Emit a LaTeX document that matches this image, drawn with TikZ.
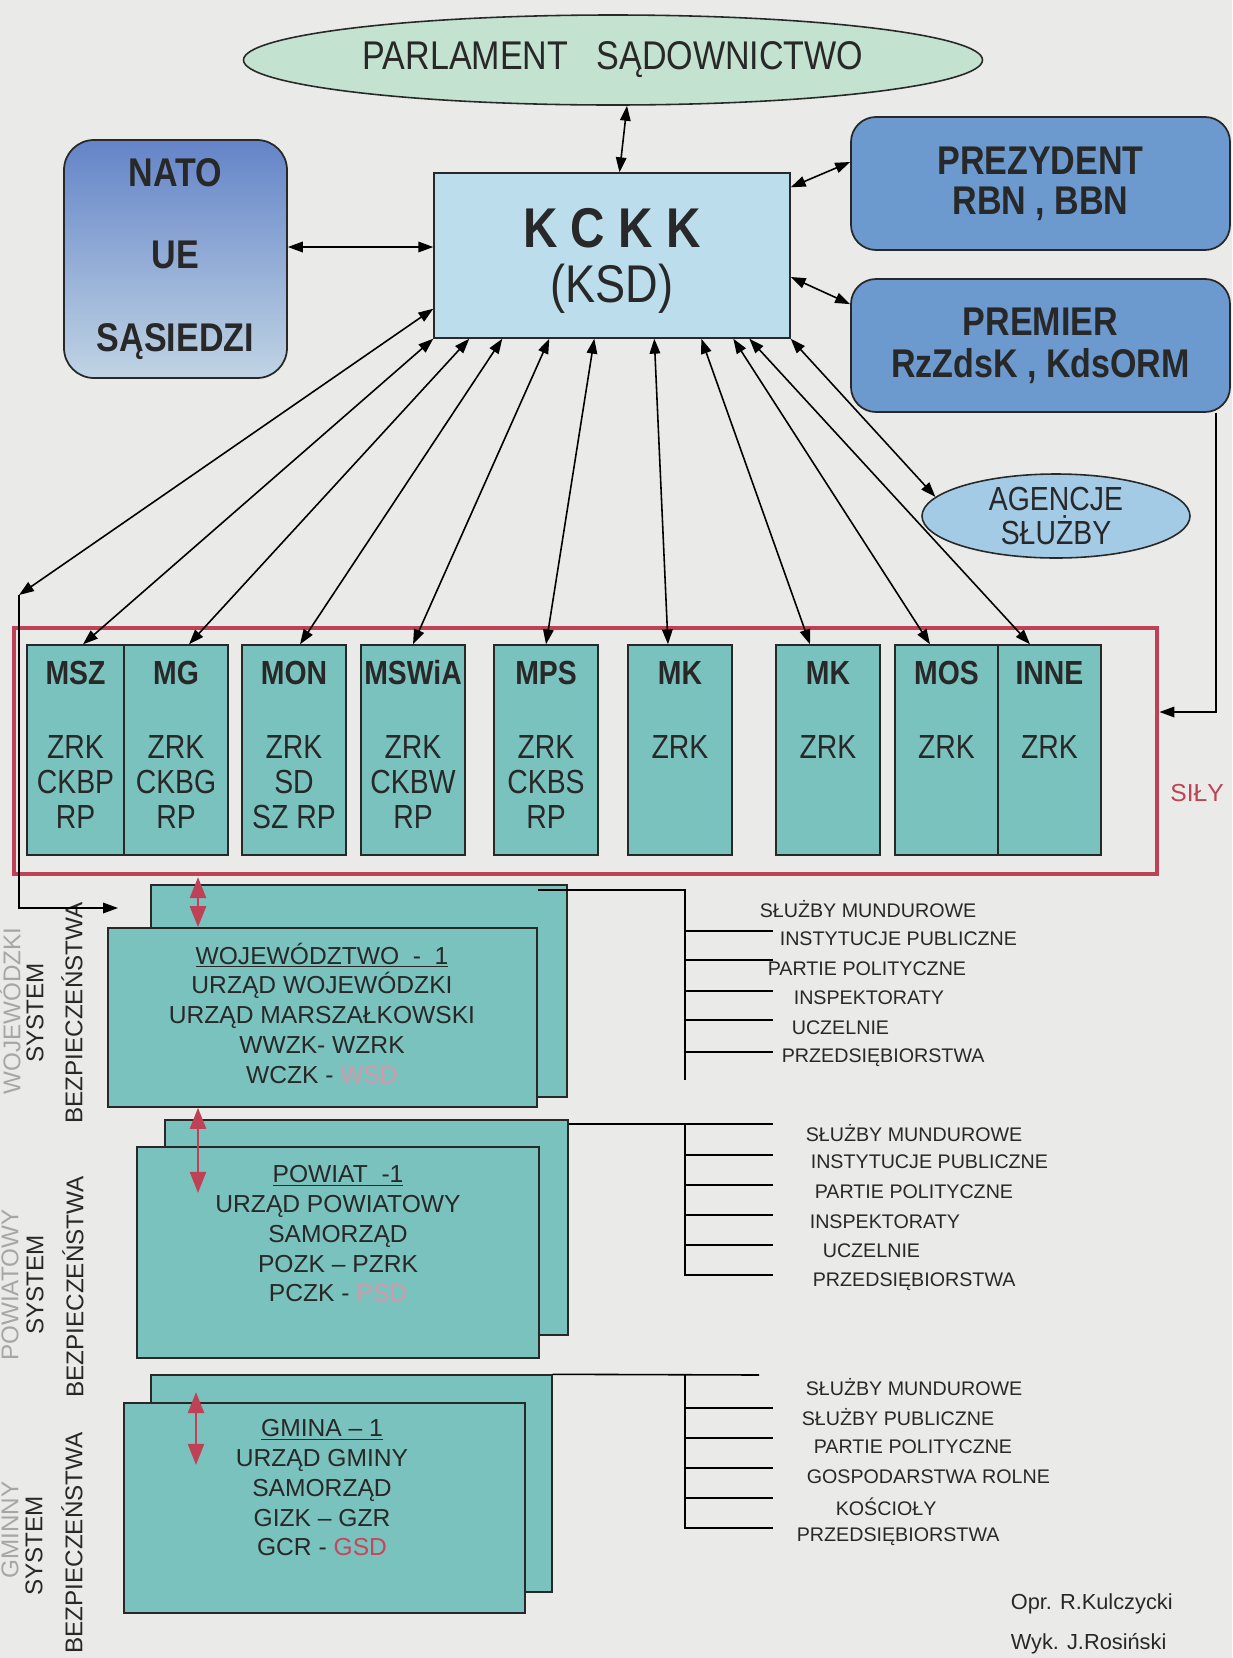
\documentclass[tikz,border=0pt]{standalone}
\usepackage{fontspec}
\setmainfont{Liberation Sans}
\newfontfamily\narrowsf{Liberation Sans}[FakeStretch=0.85]
\usetikzlibrary{shapes.geometric,arrows.meta}

\definecolor{paper}{RGB}{234,235,233}
\definecolor{parcol}{RGB}{196,226,208}
\definecolor{natotop}{RGB}{100,132,200}
\definecolor{natobot}{RGB}{192,212,228}
\definecolor{kckkcol}{RGB}{188,221,236}
\definecolor{prezcol}{RGB}{108,153,206}
\definecolor{agcol}{RGB}{163,203,230}
\definecolor{boxcol}{RGB}{122,194,190}
\definecolor{silycol}{RGB}{190,65,85}
\definecolor{fadecol}{RGB}{215,150,170}
\definecolor{gsdcol}{RGB}{200,70,90}
\definecolor{inkcol}{RGB}{40,40,40}

\begin{document}
\begin{tikzpicture}[x=2cm, y=-2cm, line width=0.9pt, >={Triangle[length=8.5pt,width=6pt]},
    every node/.style={text=inkcol},
    pnode/.style={draw=inkcol, ellipse, inner sep=0pt, align=center},
    rnode/.style={draw=inkcol, line width=1pt, rounded corners=0.5cm, inner sep=0pt, align=center},
    mnode/.style={draw=inkcol, line width=0.8pt, fill=boxcol, inner sep=0pt, minimum height=4.2cm},
    lnode/.style={draw=inkcol, line width=0.8pt, fill=boxcol, inner sep=0pt},
    hd/.style={font=\narrowsf\bfseries\fontsize{19pt}{20pt}\selectfont},
    bd/.style={font=\narrowsf\fontsize{19pt}{19.9pt}\selectfont, align=center, anchor=north, inner sep=0pt},
    lv/.style={font=\fontsize{14pt}{16.93pt}\selectfont, align=center},
    li/.style={font=\fontsize{11.2pt}{13pt}\selectfont, anchor=west, inner sep=0pt},
    vt/.style={font=\fontsize{13.8pt}{16pt}\selectfont, rotate=90},
    redarr/.style={draw=silycol, line width=1.7pt, {Triangle[length=12pt,width=9pt]}-{Triangle[length=12pt,width=9pt]}}]
    \useasboundingbox (0,0) rectangle (12.32,16.58);
    \fill[paper] (0,0) rectangle (12.32,16.58);

    % top level
    \node[pnode, fill=parcol, minimum width=14.78cm, minimum height=1.8cm, font=\narrowsf\fontsize{22.8pt}{26pt}\selectfont] (par) at (6.13,0.60) {PARLAMENT\ \ \ SĄDOWNICTWO};
    \node[rnode, top color=natotop, bottom color=natobot, rounded corners=0.6cm, minimum width=4.46cm, minimum height=4.76cm, font=\narrowsf\bfseries\fontsize{22.8pt}{46.7pt}\selectfont] (nato) at (1.755,2.59) {NATO\\UE\\SĄSIEDZI};
    \node[draw=inkcol, line width=0.8pt, fill=kckkcol, inner sep=0pt, minimum width=7.12cm, minimum height=3.30cm, align=center, font=\narrowsf\fontsize{30.2pt}{31.3pt}\selectfont] (kckk) at (6.12,2.555) {{\bfseries\fontsize{31.9pt}{31.3pt}\selectfont\rule{0pt}{27.9pt}K C K K}\\(KSD)};
    \node[rnode, fill=prezcol, minimum width=7.58cm, minimum height=2.66cm, font=\narrowsf\bfseries\fontsize{22.8pt}{22.8pt}\selectfont] (prez) at (10.405,1.835) {PREZYDENT\\RBN , BBN};
    \node[rnode, fill=prezcol, minimum width=7.58cm, minimum height=2.66cm, font=\narrowsf\bfseries\fontsize{22.8pt}{23.9pt}\selectfont] (prem) at (10.405,3.455) {PREMIER\\RzZdsK , KdsORM};
    \node[pnode, fill=agcol, minimum width=5.36cm, minimum height=1.68cm, font=\narrowsf\fontsize{19pt}{19.3pt}\selectfont] (ag) at (10.56,5.16) {AGENCJE\\SŁUŻBY};

    % ministries
    \node[draw=silycol, line width=2.8pt, inner sep=0pt, minimum width=22.86cm, minimum height=4.92cm] (sily) at (5.855,7.51) {};
    \node[text=silycol, font=\fontsize{14pt}{16pt}\selectfont] (silyt) at (11.97,7.93) {SIŁY};

    \node[mnode, minimum width=1.94cm] (msz) at (0.755,7.50) {};
    \node[mnode, minimum width=2.08cm] (mg) at (1.76,7.50) {};
    \node[mnode, minimum width=2.08cm] (mon) at (2.94,7.50) {};
    \node[mnode, minimum width=2.08cm] (mswia) at (4.13,7.50) {};
    \node[mnode, minimum width=2.08cm] (mps) at (5.46,7.50) {};
    \node[mnode, minimum width=2.08cm] (mk1) at (6.80,7.50) {};
    \node[mnode, minimum width=2.08cm] (mk2) at (8.28,7.50) {};
    \node[mnode, minimum width=2.06cm] (mos) at (9.465,7.50) {};
    \node[mnode, minimum width=2.06cm] (inne) at (10.495,7.50) {};

    \node[hd] (mszh) at (0.755,6.73) {MSZ};
    \node[hd] (mgh) at (1.76,6.73) {MG};
    \node[hd] (monh) at (2.94,6.73) {MON};
    \node[hd] (mswiah) at (4.13,6.73) {MSWiA};
    \node[hd] (mpsh) at (5.46,6.73) {MPS};
    \node[hd] (mk1h) at (6.80,6.73) {MK};
    \node[hd] (mk2h) at (8.28,6.73) {MK};
    \node[hd] (mosh) at (9.465,6.73) {MOS};
    \node[hd] (inneh) at (10.495,6.73) {INNE};

    \node[bd] (mszb) at (0.755,7.35) {ZRK\\CKBP\\RP};
    \node[bd] (mgb) at (1.76,7.35) {ZRK\\CKBG\\RP};
    \node[bd] (monb) at (2.94,7.35) {ZRK\\SD\\SZ RP};
    \node[bd] (mswiab) at (4.13,7.35) {ZRK\\CKBW\\RP};
    \node[bd] (mpsb) at (5.46,7.35) {ZRK\\CKBS\\RP};
    \node[bd] (mk1b) at (6.80,7.35) {ZRK};
    \node[bd] (mk2b) at (8.28,7.35) {ZRK};
    \node[bd] (mosb) at (9.465,7.35) {ZRK};
    \node[bd] (inneb) at (10.495,7.35) {ZRK};

    % local levels
    \node[lnode, minimum width=8.32cm, minimum height=4.24cm] (wojb) at (3.59,9.91) {};
    \node[lnode, minimum width=8.58cm, minimum height=3.58cm] (wojf) at (3.225,10.175) {};
    \node[lnode, minimum width=8.06cm, minimum height=4.30cm] (powb) at (3.665,12.275) {};
    \node[lnode, minimum width=8.04cm, minimum height=4.22cm] (powf) at (3.38,12.525) {};
    \node[lnode, minimum width=8.02cm, minimum height=4.34cm] (gmb) at (3.515,14.835) {};
    \node[lnode, minimum width=8.02cm, minimum height=4.20cm] (gmf) at (3.245,15.08) {};

    \node[lv] (wojt) at (3.22,10.13) {\underline{WOJEWÓDZTWO\ \ -\ \ 1}\\URZĄD WOJEWÓDZKI\\URZĄD MARSZAŁKOWSKI\\WWZK- WZRK\\WCZK - \textcolor{fadecol}{WSD}};
    \node[lv] (powt) at (3.38,12.34) {\underline{POWIAT\ \ -1}\\URZĄD POWIATOWY\\SAMORZĄD\\POZK – PZRK\\PCZK - \textcolor{fadecol}{PSD}};
    \node[lv] (gmt) at (3.22,14.88) {\underline{GMINA – 1}\\URZĄD GMINY\\SAMORZĄD\\GIZK – GZR\\GCR - \textcolor{gsdcol}{GSD}};

    \node[vt] (sys1) at (0.35,10.13) {SYSTEM};
    \node[vt] (bez1) at (0.72,10.13) {BEZPIECZEŃSTWA};
    \node[vt] (sys2) at (0.35,12.85) {SYSTEM};
    \node[vt] (bez2) at (0.73,12.87) {BEZPIECZEŃSTWA};
    \node[vt] (sys3) at (0.34,15.46) {SYSTEM};
    \node[vt] (bez3) at (0.72,15.43) {BEZPIECZEŃSTWA};
    \node[vt, text=black!35, inner sep=0pt] (wojs) at (0.10,10.11) {WOJEWÓDZKI};
    \node[vt, text=black!35, inner sep=0pt] (pows) at (0.10,12.85) {POWIATOWY};
    \node[vt, text=black!35, inner sep=0pt] (gms) at (0.10,15.30) {GMINNY};

    % lists
    \coordinate (t1) at (6.85,8.90);
    \coordinate (t2) at (6.85,11.24);
    \draw (wojf.east |- t1) -- (t1) -- (6.85,10.80);
    \draw (6.85,9.31) -- (7.73,9.31) (6.85,9.60) -- (7.73,9.60) (6.85,9.91) -- (7.73,9.91) (6.85,10.20) -- (7.73,10.20) (6.85,10.52) -- (7.73,10.52);
    \draw (powb.east |- t2) -- (7.73,11.24);
    \draw (t2) -- (6.85,12.75) -- (7.73,12.75);
    \draw (6.85,11.55) -- (7.73,11.55) (6.85,11.85) -- (7.73,11.85) (6.85,12.15) -- (7.73,12.15) (6.85,12.45) -- (7.73,12.45);
    \draw (gmb.north east) -- (7.59,13.75);
    \draw (6.85,13.75) -- (6.85,15.28) -- (7.73,15.28);
    \draw (6.85,14.08) -- (7.73,14.08) (6.85,14.38) -- (7.73,14.38) (6.85,14.68) -- (7.73,14.68) (6.85,14.98) -- (7.73,14.98);

    \node[li] (w1) at (7.59,9.09) {SŁUŻBY MUNDUROWE};
    \node[li] (w2) at (7.79,9.39) {INSTYTUCJE PUBLICZNE};
    \node[li] (w3) at (7.67,9.69) {PARTIE POLITYCZNE};
    \node[li] (w4) at (7.93,9.98) {INSPEKTORATY};
    \node[li] (w5) at (7.91,10.28) {UCZELNIE};
    \node[li] (w6) at (7.81,10.58) {PRZEDSIĘBIORSTWA};
    \node[li] (p1) at (8.05,11.33) {SŁUŻBY MUNDUROWE};
    \node[li] (p2) at (8.10,11.62) {INSTYTUCJE PUBLICZNE};
    \node[li] (p3) at (8.14,11.92) {PARTIE POLITYCZNE};
    \node[li] (p4) at (8.09,12.22) {INSPEKTORATY};
    \node[li] (p5) at (8.22,12.51) {UCZELNIE};
    \node[li] (p6) at (8.12,12.82) {PRZEDSIĘBIORSTWA};
    \node[li] (g1) at (8.05,13.87) {SŁUŻBY MUNDUROWE};
    \node[li] (g2) at (8.01,14.17) {SŁUŻBY PUBLICZNE};
    \node[li] (g3) at (8.13,14.47) {PARTIE POLITYCZNE};
    \node[li] (g4) at (8.06,14.77) {GOSPODARSTWA ROLNE};
    \node[li] (g5) at (8.35,15.07) {KOŚCIOŁY};
    \node[li] (g6) at (7.96,15.37) {PRZEDSIĘBIORSTWA};

    \node[font=\fontsize{12.4pt}{14pt}\selectfont, anchor=west, inner sep=0pt] (opr) at (10.10,16.04) {Opr. R.Kulczycki};
    \node[font=\fontsize{12.4pt}{14pt}\selectfont, anchor=west, inner sep=0pt] (wyk) at (10.10,16.44) {Wyk. J.Rosiński};

    % connectors
    \coordinate (lc) at (0.19,5.95);
    \coordinate (lw) at (1.18,9.08);
    \coordinate (rc) at (12.16,7.12);
    \coordinate (ra1) at (1.98,8.77);
    \coordinate (ra2) at (1.98,11.93);
    \coordinate (ra3) at (1.96,13.92);
    \coordinate (ra4) at (1.96,14.65);

    \draw[<->] ([xshift=0.28cm]par.south) -- ([xshift=0.15cm]kckk.north);
    \draw[<->] ([yshift=0.24cm]nato.east) -- ([yshift=0.17cm]kckk.west);
    \draw[<->] ([yshift=-0.3cm]kckk.north east) -- ([yshift=0.43cm]prez.west);
    \draw[<->] ([yshift=-0.43cm]kckk.east) -- ([yshift=-0.52cm]prem.north west);

    \draw[<->] ([yshift=0.6cm]kckk.south west) -- (lc);
    \draw[<->] (kckk.south west) -- ([xshift=0.15cm]msz.north);
    \draw[<->] ([xshift=0.72cm]kckk.south west) -- ([xshift=0.26cm]mg.north);
    \draw[<->] ([xshift=1.38cm]kckk.south west) -- ([xshift=0.12cm]mon.north);
    \draw[<->] ([xshift=2.32cm]kckk.south west) -- (mswia.north);
    \draw[<->] ([xshift=3.22cm]kckk.south west) -- (mps.north);
    \draw[<->] ([xshift=4.42cm]kckk.south west) -- ([xshift=-0.24cm]mk1.north);
    \draw[<->] ([xshift=5.36cm]kckk.south west) -- ([xshift=-0.36cm]mk2.north);
    \draw[<->] ([xshift=6.0cm]kckk.south west) -- ([xshift=-0.33cm]mos.north);
    \draw[<->] ([xshift=6.32cm]kckk.south west) -- ([xshift=-0.39cm]inne.north);
    \draw[<->] (kckk.south east) -- (ag.171);

    \draw[->] (lc) |- (lw);
    \draw[->] (prem.south -| rc) -- (rc) -- (rc -| sily.east);

    \draw[redarr] (ra1) -- (ra1 |- wojf.north);
    \draw[redarr] (ra2 |- wojf.south) -- (ra2);
    \draw[redarr] (ra3) -- (ra4);
\end{tikzpicture}
\end{document}
